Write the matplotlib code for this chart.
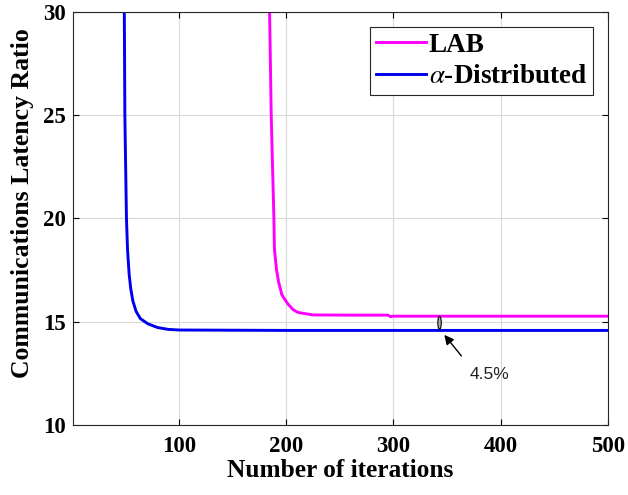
import matplotlib
matplotlib.use("Agg")
import matplotlib.pyplot as plt
from matplotlib.patches import Ellipse

# Data
blue_iter = [47, 49, 49.5, 51, 52, 53.5, 55, 57, 60, 64, 71, 80, 90, 100, 200, 300, 400, 500]
blue_val = [33, 30, 25, 20, 18.5, 17.3, 16.6, 16.0, 15.5, 15.15, 14.9, 14.72, 14.63, 14.6, 14.58, 14.58, 14.58, 14.58]

lab_iter = [184, 184.5, 186, 188.5, 189, 191, 193, 196, 201, 206, 211, 225, 260, 295, 297, 300, 400, 500]
lab_val = [33, 30, 25, 20, 18.5, 17.5, 16.9, 16.3, 15.9, 15.6, 15.45, 15.33, 15.32, 15.32, 15.25, 15.27, 15.27, 15.27]

series_labels = ["LAB", r"$\alpha$-Distributed"]
x_ticks = [100, 200, 300, 400, 500]
y_ticks = [10, 15, 20, 25, 30]
annot_text = "4.5%"

plt.rcParams['font.family'] = ['Liberation Serif', 'DejaVu Serif']
plt.rcParams['mathtext.fontset'] = 'stix'

fig = plt.figure(figsize=(6.28, 4.95), dpi=100)
ax = fig.add_axes([0.116, 0.1414, 0.852, 0.8344])

ax.plot(lab_iter, lab_val, color='#FF00FF', lw=2.1, label=series_labels[0])
ax.plot(blue_iter, blue_val, color='#0000EE', lw=2.1, label=series_labels[1])

ax.set_xlim(1, 500)
ax.set_ylim(10, 30)
ax.set_xticks(x_ticks)
ax.set_yticks(y_ticks)
ax.grid(True, color='#d9d9d9', lw=0.8)
ax.tick_params(direction='in', top=True, right=True, labelsize=16.5, length=4, width=0.8)
ax.tick_params(axis='x', pad=8)
ax.tick_params(axis='y', pad=5)
for lab in ax.get_xticklabels() + ax.get_yticklabels():
    lab.set_fontweight('bold')
for s in ax.spines.values():
    s.set_color('#262626')
    s.set_linewidth(0.8)

ax.set_xlabel("Number of iterations", fontsize=18.3, fontweight='bold', labelpad=1)
ax.set_ylabel("Communications Latency Ratio", fontsize=18.5, fontweight='bold')
ax.yaxis.set_label_coords(-0.073, 0.5375)

leg = ax.legend(loc='upper right', prop={'size': 19.5, 'weight': 'bold'}, fancybox=False,
                framealpha=1, edgecolor='#262626', handlelength=1.85, handletextpad=0.1,
                borderpad=0.22, labelspacing=0.24, borderaxespad=0.55)
leg.get_frame().set_linewidth(0.8)

ell = Ellipse((343, 14.95), width=3.2, height=0.62, facecolor='#b0b0b0', edgecolor='black', lw=0.8, zorder=5)
ax.add_patch(ell)
ax.annotate('', xy=(345.8, 14.47), xytext=(365, 13.24),
            arrowprops=dict(arrowstyle='-|>', color='black', lw=1.0, mutation_scale=14))
ax.text(371, 12.45, annot_text, fontsize=12.5, family='Liberation Sans', color='#222222', va='center', ha='left')

fig.savefig("out.png", dpi=100)
